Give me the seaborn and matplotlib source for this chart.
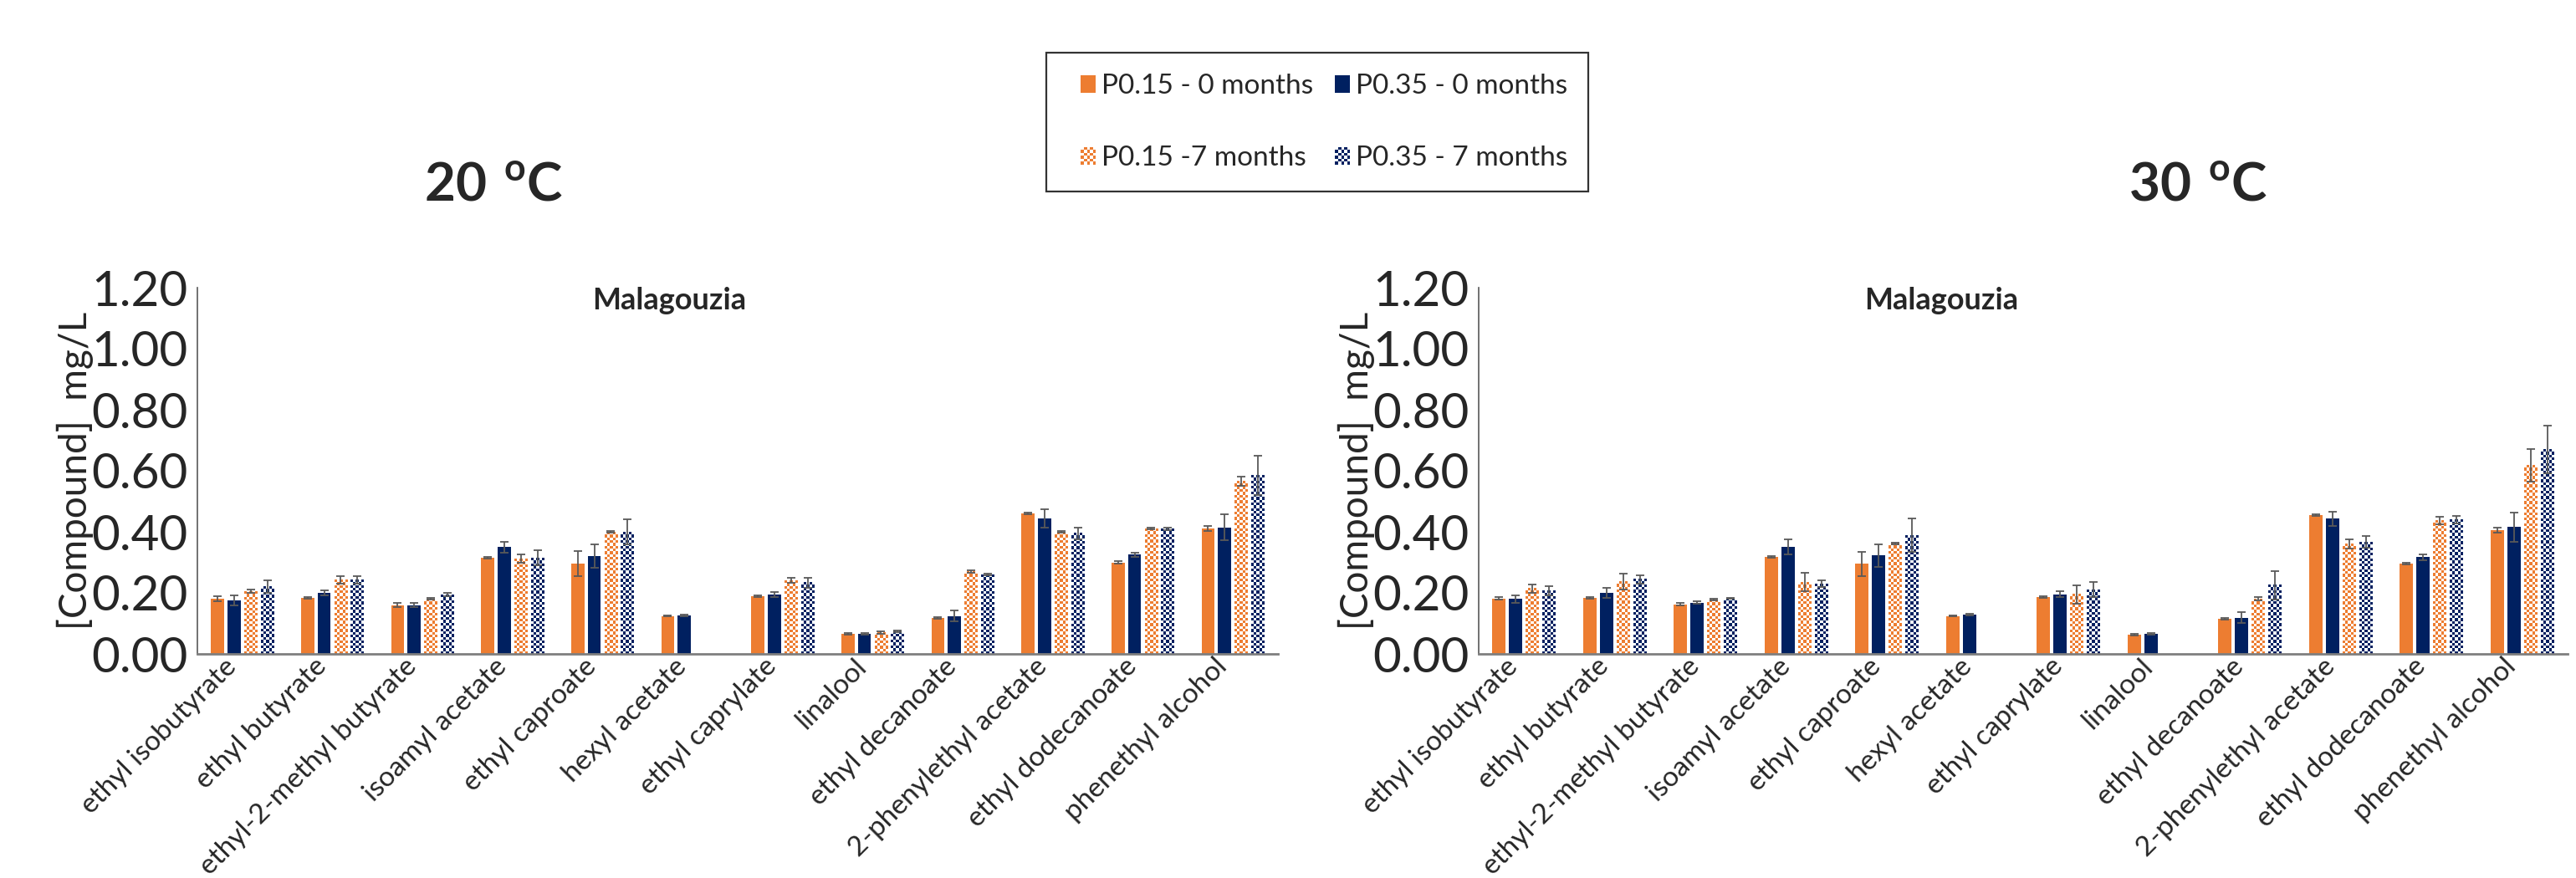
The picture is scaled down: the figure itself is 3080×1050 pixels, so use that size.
import numpy as np
import pandas as pd
import matplotlib
matplotlib.use("Agg")
import matplotlib.pyplot as plt
import matplotlib.transforms as mtransforms
from matplotlib.patches import Patch, Rectangle
from matplotlib.legend_handler import HandlerBase
import seaborn as sns

# ---------------------------------------------------------------- data
compounds = [
    "ethyl isobutyrate", "ethyl butyrate", "ethyl-2-methyl butyrate",
    "isoamyl acetate", "ethyl caproate", "hexyl acetate", "ethyl caprylate",
    "linalool", "ethyl decanoate", "2-phenylethyl acetate",
    "ethyl dodecanoate", "phenethyl alcohol",
]
series_names = ["P0.15 - 0 months", "P0.35 - 0 months",
                "P0.15 -7 months", "P0.35 - 7 months"]
nan = np.nan

# 20 oC, mean concentrations (mg/L)
t20_p15_0m = [0.180, 0.183, 0.160, 0.315, 0.296, 0.124, 0.190, 0.066, 0.118, 0.460, 0.300, 0.410]
t20_p35_0m = [0.175, 0.200, 0.160, 0.350, 0.320, 0.126, 0.194, 0.066, 0.124, 0.445, 0.325, 0.415]
t20_p15_7m = [0.205, 0.242, 0.180, 0.312, 0.400, nan, 0.240, 0.070, 0.270, 0.400, 0.410, 0.565]
t20_p35_7m = [0.220, 0.242, 0.194, 0.315, 0.400, nan, 0.233, 0.074, 0.260, 0.395, 0.410, 0.585]
# 20 oC, standard deviations
t20_p15_0m_sd = [0.008, 0.002, 0.007, 0.003, 0.042, 0.002, 0.003, 0.002, 0.002, 0.003, 0.005, 0.008]
t20_p35_0m_sd = [0.017, 0.007, 0.007, 0.018, 0.038, 0.003, 0.008, 0.002, 0.018, 0.030, 0.006, 0.043]
t20_p15_7m_sd = [0.005, 0.012, 0.003, 0.013, 0.003, nan, 0.008, 0.003, 0.005, 0.004, 0.003, 0.015]
t20_p35_7m_sd = [0.020, 0.012, 0.006, 0.024, 0.040, nan, 0.016, 0.003, 0.002, 0.020, 0.005, 0.065]

# 30 oC, mean concentrations (mg/L)
t30_p15_0m = [0.182, 0.183, 0.163, 0.318, 0.295, 0.124, 0.187, 0.063, 0.115, 0.455, 0.297, 0.405]
t30_p35_0m = [0.180, 0.200, 0.168, 0.350, 0.322, 0.128, 0.195, 0.066, 0.119, 0.443, 0.317, 0.416]
t30_p15_7m = [0.214, 0.236, 0.177, 0.235, 0.362, nan, 0.195, nan, 0.180, 0.360, 0.436, 0.617]
t30_p35_7m = [0.207, 0.244, 0.182, 0.230, 0.388, nan, 0.210, nan, 0.225, 0.367, 0.440, 0.670]
# 30 oC, standard deviations
t30_p15_0m_sd = [0.005, 0.002, 0.003, 0.002, 0.040, 0.002, 0.003, 0.002, 0.002, 0.002, 0.003, 0.008]
t30_p35_0m_sd = [0.012, 0.016, 0.004, 0.025, 0.037, 0.003, 0.010, 0.002, 0.018, 0.024, 0.010, 0.048]
t30_p15_7m_sd = [0.013, 0.026, 0.003, 0.030, 0.003, nan, 0.030, nan, 0.006, 0.016, 0.012, 0.053]
t30_p35_7m_sd = [0.015, 0.013, 0.002, 0.010, 0.055, nan, 0.025, nan, 0.047, 0.018, 0.012, 0.078]

y_ticks = [0.0, 0.2, 0.4, 0.6, 0.8, 1.0, 1.2]

# ---------------------------------------------------------------- style
ORANGE = "#ED7D31"
NAVY = "#002060"
series_colors = [ORANGE, NAVY, ORANGE, NAVY]
checkered = [False, False, True, True]
palette = dict(zip(series_names, series_colors))

sns.set_theme(style="white")
plt.rcParams["font.family"] = ["Lato", "DejaVu Sans"]
plt.rcParams["mathtext.fontset"] = "custom"
plt.rcParams["mathtext.rm"] = "Lato"
plt.rcParams["mathtext.bf"] = "Lato:bold"

W, H = 3080, 1050
fig = plt.figure(figsize=(W / 100, H / 100), dpi=100)
fig.patch.set_facecolor("white")


def px_axes(x0, x1, ytop, ybot):
    return fig.add_axes([x0 / W, 1 - ybot / H, (x1 - x0) / W, (ybot - ytop) / H])


ax20 = px_axes(236, 1528, 344, 782)
ax30 = px_axes(1768, 3070, 344, 782)


def long_table(means, sds):
    rows = []
    for name, vals, errs in zip(series_names, means, sds):
        for comp, v, e in zip(compounds, vals, errs):
            rows.append({"compound": comp, "series": name, "value": v, "sd": e})
    return pd.DataFrame(rows)


def checker_rgba(color, nx, ny):
    rgb = np.array(matplotlib.colors.to_rgb(color))
    ii, jj = np.meshgrid(np.arange(nx), np.arange(ny))
    mask = ((ii + jj) % 2 == 0)[..., None]
    return np.where(mask, rgb, np.ones(3))


def draw_panel(ax, df):
    sns.barplot(data=df, x="compound", y="value", hue="series",
                order=compounds, hue_order=series_names, palette=palette,
                width=0.736, gap=0.21, errorbar=None, saturation=1,
                linewidth=0, legend=False, ax=ax)
    ax.set_xlim(-0.5, len(compounds) - 0.5)
    ax.set_ylim(0, 1.2)

    bar_containers = list(ax.containers)
    cell = 3.3  # checker square size in pixels
    for k, cont in enumerate(bar_containers):
        sd_lookup = df[df["series"] == series_names[k]].set_index("compound")["sd"]
        for bar in cont:
            h = bar.get_height()
            if not np.isfinite(h):
                continue
            x0, w = bar.get_x(), bar.get_width()
            cx = x0 + w / 2
            idx = int(round(cx))
            if checkered[k]:
                bar.set_facecolor("white")
                p0 = ax.transData.transform((x0, 0))
                p1 = ax.transData.transform((x0 + w, h))
                nx = max(1, int(round((p1[0] - p0[0]) / cell)))
                ny = max(1, int(round((p1[1] - p0[1]) / cell)))
                ax.imshow(checker_rgba(series_colors[k], nx, ny),
                          extent=(x0, x0 + w, 0, h), origin="lower",
                          interpolation="nearest", aspect="auto",
                          zorder=bar.get_zorder() + 0.1)
            sd = sd_lookup[compounds[idx]]
            ax.errorbar(cx, h, yerr=sd, fmt="none", ecolor="#595959",
                        elinewidth=1.3, capsize=3.6, capthick=1.3, zorder=6)

    ax.set_xlim(-0.5, len(compounds) - 0.5)
    ax.set_ylim(0, 1.2)
    ax.set_yticks(y_ticks)
    ax.set_yticklabels([f"{t:.2f}" for t in y_ticks], fontsize=42)
    ax.tick_params(axis="y", length=0, pad=8)
    ax.tick_params(axis="x", length=0, pad=4)
    ax.set_xlabel("")
    ax.set_ylabel("[Compound]  mg/L", fontsize=33)
    ax.yaxis.label.set_va("center")
    ax.yaxis.set_label_coords(-146 / (ax.get_position().width * W), 0.5)

    shift = mtransforms.ScaledTranslation(-12 / 100, -5 / 100, fig.dpi_scale_trans)
    ax.set_xticks(range(len(compounds)))
    ax.set_xticklabels(compounds, fontsize=24, rotation=45, ha="right",
                       va="center", rotation_mode="anchor")
    for lab in ax.get_xticklabels():
        lab.set_transform(lab.get_transform() + shift)

    for side in ("top", "right"):
        ax.spines[side].set_visible(False)
    ax.spines["left"].set_color("#595959")
    ax.spines["left"].set_linewidth(1.2)
    ax.spines["bottom"].set_color("#7F7F7F")
    ax.spines["bottom"].set_linewidth(2.0)
    ax.set_facecolor("white")


draw_panel(ax20, long_table([t20_p15_0m, t20_p35_0m, t20_p15_7m, t20_p35_7m],
                            [t20_p15_0m_sd, t20_p35_0m_sd, t20_p15_7m_sd, t20_p35_7m_sd]))
draw_panel(ax30, long_table([t30_p15_0m, t30_p35_0m, t30_p15_7m, t30_p35_7m],
                            [t30_p15_0m_sd, t30_p35_0m_sd, t30_p15_7m_sd, t30_p35_7m_sd]))

# ---------------------------------------------------------------- titles
fig.text(590 / W, 1 - 222 / H, r"$\mathbf{20\ ^{o}C}$", ha="center", va="center", fontsize=46)
fig.text(2628 / W, 1 - 222 / H, r"$\mathbf{30\ ^{o}C}$", ha="center", va="center", fontsize=46)
fig.text(800 / W, 1 - 360 / H, "Malagouzia", ha="center", va="center",
         fontsize=26, fontweight="bold")
fig.text(2321 / W, 1 - 360 / H, "Malagouzia", ha="center", va="center",
         fontsize=26, fontweight="bold")


# ---------------------------------------------------------------- legend
KEY_W, KEY_H = 18, 21  # legend key size in pixels


class KeyHandler(HandlerBase):
    """Small key square at the right end of the handle box, solid or checkered."""

    def __init__(self, color, checker=False, nx=5, ny=6):
        super().__init__()
        self.color, self.checker, self.nx, self.ny = color, checker, nx, ny

    def create_artists(self, legend, orig_handle, xdescent, ydescent,
                       width, height, fontsize, trans):
        kw = KEY_W * 72 / fig.dpi
        kh = KEY_H * 72 / fig.dpi
        x0 = -xdescent + width - kw
        y0 = -ydescent + (height - kh) / 2
        if not self.checker:
            return [Rectangle((x0, y0), kw, kh, facecolor=self.color,
                              edgecolor="none", transform=trans)]
        cw, ch = kw / self.nx, kh / self.ny
        arts = [Rectangle((x0, y0), kw, kh, facecolor="white",
                          edgecolor="none", transform=trans)]
        for i in range(self.nx):
            for j in range(self.ny):
                if (i + j) % 2 == 0:
                    arts.append(Rectangle((x0 + i * cw, y0 + j * ch), cw, ch,
                                          facecolor=self.color, edgecolor="none",
                                          transform=trans))
        return arts


handles = [Patch(facecolor=c, edgecolor="none") for c in series_colors]
handler_map = {h: KeyHandler(c, chk) for h, c, chk in zip(handles, series_colors, checkered)}
order = [0, 2, 1, 3]
leg = fig.legend([handles[i] for i in order], [series_names[i] for i in order],
                 handler_map=handler_map, ncol=2, loc="upper left",
                 bbox_to_anchor=(1251 / W, 1 - 63 / H), fontsize=24,
                 frameon=True, fancybox=False, shadow=False,
                 handlelength=1.03, handleheight=0.7, handletextpad=0.2,
                 columnspacing=0.3, labelspacing=1.68, borderpad=0.75,
                 borderaxespad=0)
leg.get_frame().set_edgecolor("black")
leg.get_frame().set_linewidth(1.6)

fig.savefig("out.png", dpi=100, facecolor="white")
